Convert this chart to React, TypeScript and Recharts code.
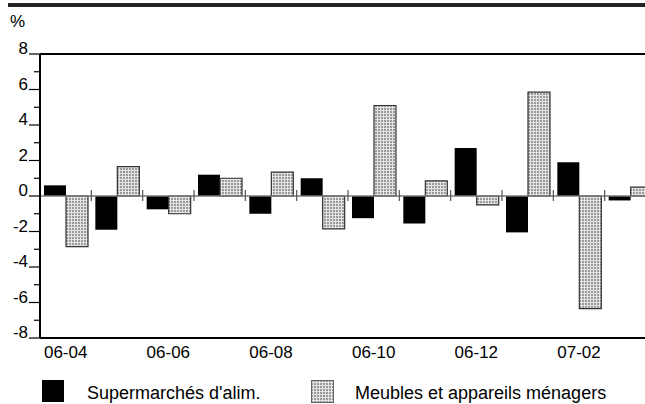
import React from "react";
import { BarChart, Bar, XAxis, YAxis, ReferenceLine } from "recharts";

const months = ["06-04", "06-05", "06-06", "06-07", "06-08", "06-09", "06-10", "06-11", "06-12", "07-01", "07-02", "07-03"];
const supermarches = [0.6, -1.9, -0.75, 1.2, -1.0, 1.0, -1.25, -1.55, 2.7, -2.05, 1.9, -0.25];
const meubles = [-2.85, 1.65, -1.0, 1.0, 1.35, -1.85, 5.1, 0.85, -0.5, 5.85, -6.35, 0.5];
const yTicks = [-8, -7, -6, -5, -4, -3, -2, -1, 0, 1, 2, 3, 4, 5, 6, 7, 8];
const seriesNames = ["Supermarchés d'alim.", "Meubles et appareils ménagers"];

const data = months.map((m, i) => ({ month: m, sup: supermarches[i], meu: meubles[i] }));

const font = "'Liberation Sans', Arial, sans-serif";

function YTick(props: any) {
  const { x, y, payload } = props;
  const major = payload.value % 2 === 0;
  return (
    <g>
      <line x1={major ? x - 11 : x - 6} x2={x} y1={y} y2={y} stroke="#000" strokeWidth={1.2} />
      {major && (
        <text x={x - 12} y={y} textAnchor="end" fontSize={17} fontFamily={font} fill="#000">
          {payload.value}
        </text>
      )}
    </g>
  );
}

// zero line with small marks between months
function ZeroLine(props: any) {
  const { x1, x2, y1 } = props;
  const step = (x2 - x1) / months.length;
  return (
    <g>
      <line x1={x1} x2={x2} y1={y1} y2={y1} stroke="#777" strokeWidth={1.5} />
      {months.slice(1).map((m, i) => (
        <line key={m} x1={x1 + step * (i + 1)} x2={x1 + step * (i + 1)} y1={y1 - 6} y2={y1 + 5} stroke="#555" strokeWidth={1.2} />
      ))}
    </g>
  );
}

function Dots() {
  return (
    <pattern id="dots" width="3" height="3" patternUnits="userSpaceOnUse">
      <rect width="3" height="3" fill="#e4e4e4" />
      <rect width="2" height="2" fill="#9a9a9a" />
    </pattern>
  );
}

export default function App() {
  return (
    <div style={{ position: "absolute", left: 0, top: 0, width: 645, height: 404, overflow: "hidden", background: "#fff", fontFamily: font }}>
      <div style={{ position: "absolute", left: 8, top: 3, width: 637, height: 4, background: "#222" }} />
      <div style={{ position: "absolute", left: 10, top: 12, fontSize: 17, color: "#000" }}>%</div>
      <BarChart
        width={660}
        height={404}
        data={data}
        margin={{ top: 54, right: 4, bottom: 36, left: 0 }}
        barGap={0}
        barSize={22}
      >
        <defs>
          <Dots />
        </defs>
        <XAxis
          dataKey="month"
          interval={1}
          tickLine={false}
          axisLine={{ stroke: "#000", strokeWidth: 2 }}
          tick={{ fontSize: 17, fill: "#000", fontFamily: font }}
          height={30}
        />
        <YAxis
          domain={[-8, 8]}
          ticks={yTicks}
          interval={0}
          width={40}
          tickSize={0}
          tickMargin={0}
          tickLine={false}
          axisLine={{ stroke: "#000", strokeWidth: 2 }}
          tick={<YTick />}
        />
        <ReferenceLine y={8} stroke="#000" strokeWidth={2} />
        <ReferenceLine y={0} shape={<ZeroLine />} />
        <Bar dataKey="sup" name={seriesNames[0]} fill="#000" isAnimationActive={false} />
        <Bar dataKey="meu" name={seriesNames[1]} fill="url(#dots)" stroke="#333" strokeWidth={1.2} isAnimationActive={false} />
      </BarChart>
      <div style={{ position: "absolute", left: 42, top: 380, width: 22, height: 22, background: "#000" }} />
      <div style={{ position: "absolute", left: 87, top: 384, fontSize: 18, lineHeight: 1, color: "#000", whiteSpace: "nowrap" }}>{seriesNames[0]}</div>
      <svg style={{ position: "absolute", left: 311, top: 380 }} width={24} height={24}>
        <defs>
          <Dots />
        </defs>
        <rect x={0.5} y={0.5} width={22} height={22} fill="url(#dots)" stroke="#666" />
      </svg>
      <div style={{ position: "absolute", left: 355, top: 384, fontSize: 18, lineHeight: 1, color: "#000", whiteSpace: "nowrap" }}>{seriesNames[1]}</div>
    </div>
  );
}
